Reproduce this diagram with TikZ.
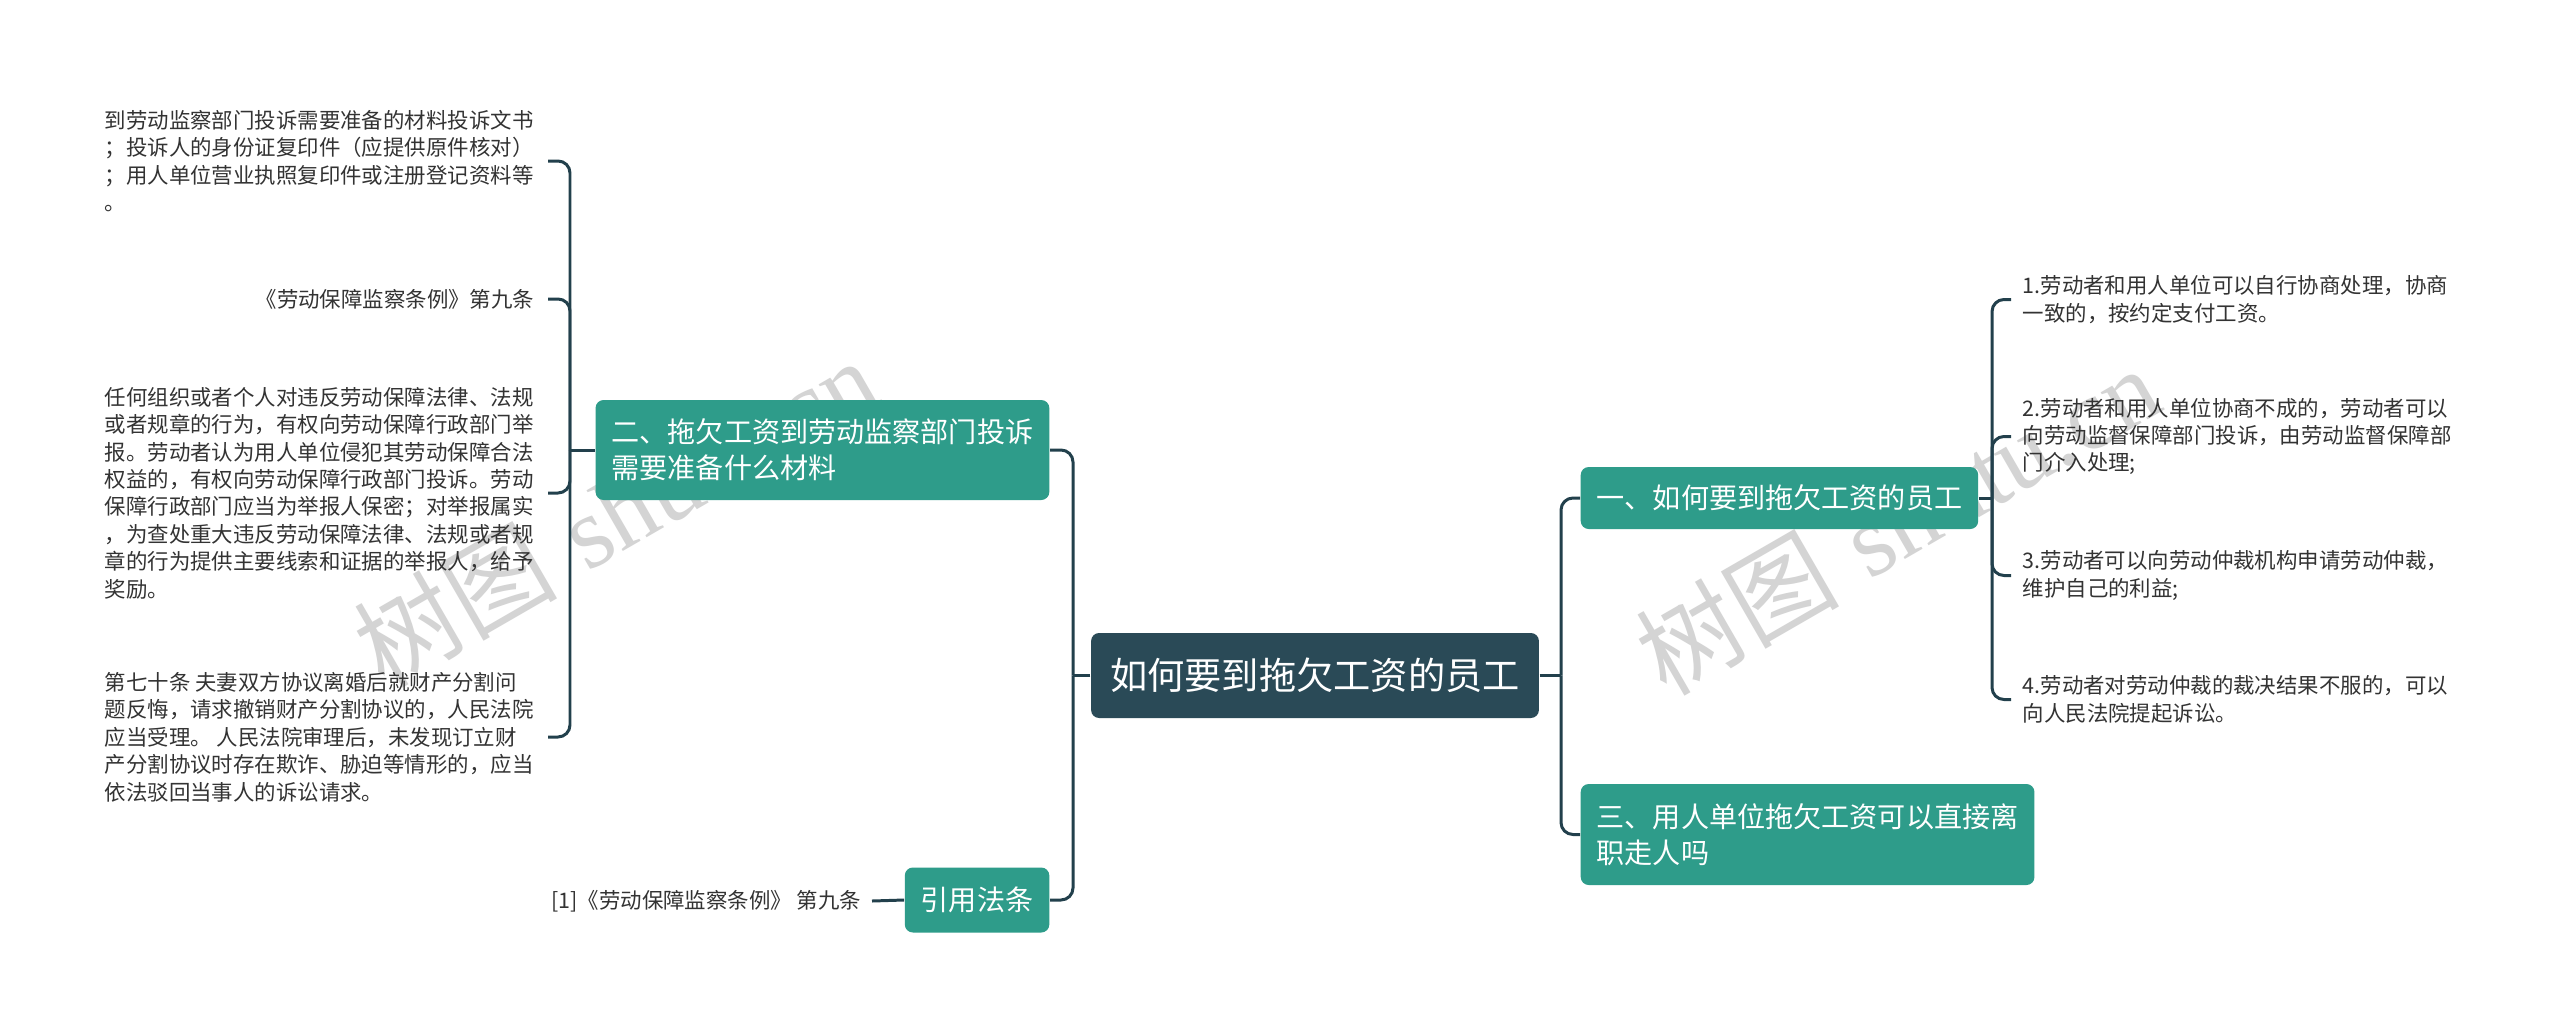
\documentclass[tikz,border=0pt]{standalone}
\usepackage{fontspec}
\usepackage{tikz}
\newfontfamily\cjk{Noto Sans CJK SC}
\newfontfamily\wmserif{Liberation Serif}
\usetikzlibrary{positioning}

\definecolor{rootcol}{HTML}{2A4A57}
\definecolor{topiccol}{HTML}{2E9C8A}
\definecolor{linecol}{HTML}{22404C}
\definecolor{wmcol}{HTML}{D4D4D4}

\tikzset{
	root/.style={fill=rootcol, rounded corners=0.08cm, text=white, inner xsep=0.19cm, minimum height=0.85cm, font=\cjk\fontsize{10.6pt}{13pt}\selectfont},
	topic/.style={fill=topiccol, rounded corners=0.08cm, text=white, align=left, inner xsep=0.16cm, font=\cjk\fontsize{8pt}{10.2pt}\selectfont},
	leaf/.style={text=black!80, align=left, inner sep=0pt, font=\cjk\fontsize{6.1pt}{7.8pt}\selectfont},
	conn/.style={draw=linecol, line width=0.85pt, rounded corners=0.12cm},
	wmark/.style={text=wmcol, rotate=30, font=\fontsize{29pt}{31pt}\selectfont}
}

\begin{document}
\begin{tikzpicture}
	\fill[white] (0,0) rectangle (25.6,-10.27);
	\useasboundingbox (0,0) rectangle (25.6,-10.27);

	\node[wmark] (wmL) at (6.15,-5.12) {{\cjk 树图} {\wmserif shutu.cn}};
	\node[wmark] (wmR) at (18.97,-5.20) {{\cjk 树图} {\wmserif shutu.cn}};

	\node[root] (root) at (13.15,-6.755) {如何要到拖欠工资的员工};
	\coordinate (Lj) at (10.73,-6.755);
	\coordinate (Rj) at (15.61,-6.755);

	\node[topic, anchor=east, minimum height=1cm] (complain) at (10.50,-4.50) {二、拖欠工资到劳动监察部门投诉\\需要准备什么材料};
	\node[topic, anchor=east, minimum height=0.65cm] (cite) at (10.50,-9.00) {引用法条};
	\node[topic, anchor=west, minimum height=0.62cm] (how) at (15.80,-4.98) {一、如何要到拖欠工资的员工};
	\node[topic, anchor=west, minimum height=1.01cm] (quit) at (15.80,-8.345) {三、用人单位拖欠工资可以直接离\\职走人吗};

	% left leaves
	\coordinate (Lk) at (5.70,-4.50);
	\coordinate (Lh) at (5.48,0);
	\node[leaf, anchor=west] (mat) at (1.04,-1.61) {到劳动监察部门投诉需要准备的材料投诉文书\\；投诉人的身份证复印件（应提供原件核对）\\；用人单位营业执照复印件或注册登记资料等\\。};
	\node[leaf, anchor=east] (art) at (5.35,-2.99) {《劳动保障监察条例》第九条};
	\node[leaf, anchor=west] (report) at (1.04,-4.93) {任何组织或者个人对违反劳动保障法律、法规\\或者规章的行为，有权向劳动保障行政部门举\\报。劳动者认为用人单位侵犯其劳动保障合法\\权益的，有权向劳动保障行政部门投诉。劳动\\保障行政部门应当为举报人保密；对举报属实\\，为查处重大违反劳动保障法律、法规或者规\\章的行为提供主要线索和证据的举报人，给予\\奖励。};
	\node[leaf, anchor=west] (divorce) at (1.04,-7.37) {第七十条 夫妻双方协议离婚后就财产分割问\\题反悔，请求撤销财产分割协议的，人民法院\\应当受理。 人民法院审理后，未发现订立财\\产分割协议时存在欺诈、胁迫等情形的，应当\\依法驳回当事人的诉讼请求。};
	\node[leaf, anchor=east, inner xsep=0.1cm] (ref) at (8.72,-9.01) {[1]《劳动保障监察条例》 第九条};

	% right leaves
	\coordinate (Rk) at (19.92,-4.98);
	\coordinate (Rh) at (20.11,0);
	\node[leaf, anchor=west] (way1) at (20.22,-2.995) {1.劳动者和用人单位可以自行协商处理，协商\\一致的，按约定支付工资。};
	\node[leaf, anchor=west] (way2) at (20.22,-4.365) {2.劳动者和用人单位协商不成的，劳动者可以\\向劳动监督保障部门投诉，由劳动监督保障部\\门介入处理;};
	\node[leaf, anchor=west] (way3) at (20.22,-5.755) {3.劳动者可以向劳动仲裁机构申请劳动仲裁，\\维护自己的利益;};
	\node[leaf, anchor=west] (way4) at (20.22,-6.995) {4.劳动者对劳动仲裁的裁决结果不服的，可以\\向人民法院提起诉讼。};

	\draw[conn] (root.west) -- (Lj);
	\draw[conn] (Lj) |- (complain.east);
	\draw[conn] (Lj) |- (cite.east);
	\draw[conn] (root.east) -- (Rj);
	\draw[conn] (Rj) |- (how.west);
	\draw[conn] (Rj) |- (quit.west);

	\draw[conn] (complain.west) -- (Lk);
	\foreach \n in {mat,art,report,divorce}
		\draw[conn] (Lk) |- (\n.east -| Lh);
	\draw[conn] (how.east) -- (Rk);
	\foreach \n in {way1,way2,way3,way4}
		\draw[conn] (Rk) |- (\n.west -| Rh);
	\draw[conn] (cite.west) -- (ref.east);
\end{tikzpicture}
\end{document}
